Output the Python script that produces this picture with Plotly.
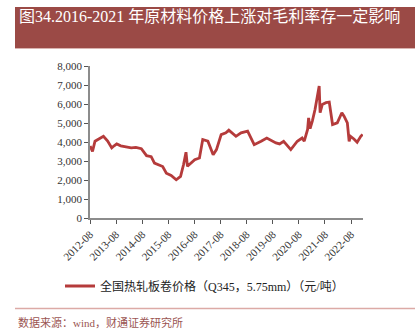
import plotly.graph_objects as go

dates = ["2012-08-03","2012-09-05","2012-10-10","2012-12-05","2013-02-05","2013-04-05","2013-06-01",
         "2013-07-05","2013-08-10","2013-10-05","2013-12-10","2014-03-01","2014-05-05","2014-07-20",
         "2014-10-01","2014-12-05","2015-01-20","2015-03-15","2015-05-15","2015-07-05","2015-09-10",
         "2015-11-20","2016-01-20","2016-03-01","2016-04-05","2016-04-25","2016-06-15","2016-08-05",
         "2016-10-10","2016-11-25","2017-02-05","2017-04-20","2017-06-05","2017-08-10","2017-10-15",
         "2017-11-25","2018-03-05","2018-05-15","2018-08-15","2018-11-15","2019-02-20","2019-05-10",
         "2019-09-15","2019-11-05","2020-01-01","2020-04-10","2020-07-10","2020-09-15","2020-10-15",
         "2020-12-01","2020-12-15","2021-01-05","2021-02-05","2021-03-15","2021-05-12","2021-05-25",
         "2021-06-25","2021-08-15","2021-09-30","2021-11-15","2022-01-20","2022-03-25","2022-04-25",
         "2022-06-10","2022-07-05","2022-07-25","2022-09-10","2022-10-25","2022-12-15","2023-01-10"]
prices = [3790,3510,4040,4150,4300,4050,3690,
          3800,3900,3800,3750,3690,3720,3650,
          3280,3230,2890,2800,2710,2360,2240,
          2010,2190,2800,3460,2720,2890,3070,
          3160,4130,4040,3330,3600,4390,4480,
          4620,4300,4480,4570,3860,4040,4210,
          3950,3900,4040,3600,4040,4210,4040,
          4660,5270,4700,5100,5710,6950,5540,
          5980,6070,6100,4920,5010,5540,5360,
          5010,4040,4300,4160,3990,4300,4400]

tick_vals = [f"{y}-08-01" for y in range(2012, 2023)]
tick_text = [f"{y}-08" for y in range(2012, 2023)]
y_ticks = [0, 1000, 2000, 3000, 4000, 5000, 6000, 7000, 8000]

title_text = "图34.2016-2021 年原材料价格上涨对毛利率存一定影响"
legend_name = "全国热轧板卷价格（Q345，5.75mm）（元/吨）"
source_text = "数据来源：wind，财通证券研究所"

W, H = 415, 331
L, R, T, B = 90, 363, 66, 218

def px(x):
    return (x - L) / (R - L)

def py(y):
    return (B - y) / (B - T)

FONT = "Liberation Serif, Noto Sans CJK SC, serif"

fig = go.Figure()
fig.add_trace(go.Scatter(x=dates, y=prices, mode="lines", name=legend_name,
                         line=dict(color="#b53b3b", width=2.8)))

fig.update_layout(
    width=W, height=H,
    margin=dict(l=L, r=W - R, t=T, b=H - B),
    paper_bgcolor="white", plot_bgcolor="white",
    font=dict(family=FONT, size=11, color="#333333"),
    showlegend=True,
    legend=dict(x=px(60), y=py(286), xanchor="left", yanchor="middle",
                font=dict(size=12, color="#222222"), bgcolor="rgba(0,0,0,0)",
                itemwidth=30),
    xaxis=dict(type="date", range=["2012-08-01", "2023-01-15"],
               tickvals=tick_vals, ticktext=tick_text, tickangle=-45,
               showgrid=False, zeroline=False,
               showline=True, linecolor="#8c8c8c", linewidth=1.5,
               ticks="outside", ticklen=4, tickcolor="#555555", tickwidth=1,
               tickfont=dict(size=11, color="#333333")),
    yaxis=dict(range=[0, 8000], tickvals=y_ticks, tickformat=",",
               showgrid=False, zeroline=False,
               showline=True, linecolor="#8c8c8c", linewidth=1.5,
               ticks="outside", ticklen=4, tickcolor="#555555", tickwidth=1,
               tickfont=dict(size=11, color="#333333")),
    shapes=[
        dict(type="rect", xref="paper", yref="paper", x0=px(15), x1=px(420),
             y0=py(48), y1=py(7), fillcolor="#9b4a46", line=dict(width=0), layer="below"),
        dict(type="line", xref="paper", yref="paper", x0=px(15), x1=px(420),
             y0=py(48.5), y1=py(48.5), line=dict(color="#d9b3b0", width=1)),
        dict(type="line", xref="paper", yref="paper", x0=px(15), x1=px(420),
             y0=py(308.5), y1=py(308.5), line=dict(color="#dcaaa6", width=1.5)),
    ],
    annotations=[
        dict(text=title_text, xref="paper", yref="paper", x=px(17), y=py(16),
             xanchor="left", yanchor="middle", showarrow=False,
             font=dict(size=16, color="white", family=FONT)),
        dict(text=source_text, xref="paper", yref="paper", x=px(16), y=py(322),
             xanchor="left", yanchor="middle", showarrow=False,
             font=dict(size=11, color="#9b5552", family=FONT)),
    ],
)

fig.write_html("out.html")
